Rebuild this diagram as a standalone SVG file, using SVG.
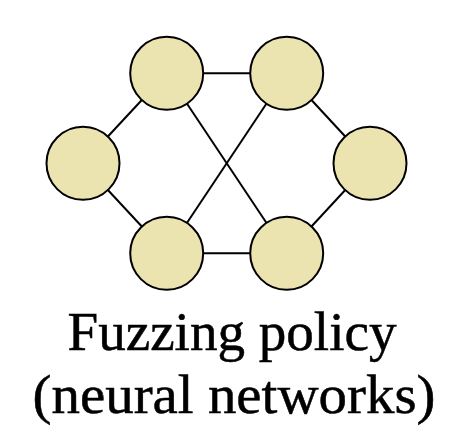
<svg xmlns="http://www.w3.org/2000/svg" width="460" height="448" viewBox="0 0 460 448">
<style>
.node{fill:#ece4b0;stroke:#000;stroke-width:2}
.edge{stroke:#000;stroke-width:2;fill:none}
.label{font-family:"Liberation Serif","DejaVu Serif",serif;font-size:54px;fill:#000;text-anchor:middle;stroke:#000;stroke-width:0.5}
</style>
<rect width="460" height="448" fill="#fff"/>
<g id="connectors">
<line class="edge" x1="166.7" y1="73.3" x2="286.7" y2="73.3"/>
<line class="edge" x1="166.7" y1="253.3" x2="286.7" y2="253.3"/>
<line class="edge" x1="83" y1="163.3" x2="166.7" y2="73.3"/>
<line class="edge" x1="83" y1="163.3" x2="166.7" y2="253.3"/>
<line class="edge" x1="166.7" y1="73.3" x2="286.7" y2="253.3"/>
<line class="edge" x1="166.7" y1="253.3" x2="286.7" y2="73.3"/>
<line class="edge" x1="286.7" y1="73.3" x2="370" y2="163.3"/>
<line class="edge" x1="286.7" y1="253.3" x2="370" y2="163.3"/>
</g>
<g id="n1"><circle class="node" cx="166.7" cy="73.3" r="36.5"/></g>
<g id="n2"><circle class="node" cx="286.7" cy="73.3" r="36.5"/></g>
<g id="n3"><circle class="node" cx="83" cy="163.3" r="36.5"/></g>
<g id="n4"><circle class="node" cx="370" cy="163.3" r="36.5"/></g>
<g id="n5"><circle class="node" cx="166.7" cy="253.3" r="36.5"/></g>
<g id="n6"><circle class="node" cx="286.7" cy="253.3" r="36.5"/></g>
<g id="caption">
<text class="label" x="232" y="350" textLength="329" lengthAdjust="spacingAndGlyphs">Fuzzing policy</text>
<text class="label" x="234" y="413" textLength="403" lengthAdjust="spacingAndGlyphs">(neural networks)</text>
</g>
</svg>
